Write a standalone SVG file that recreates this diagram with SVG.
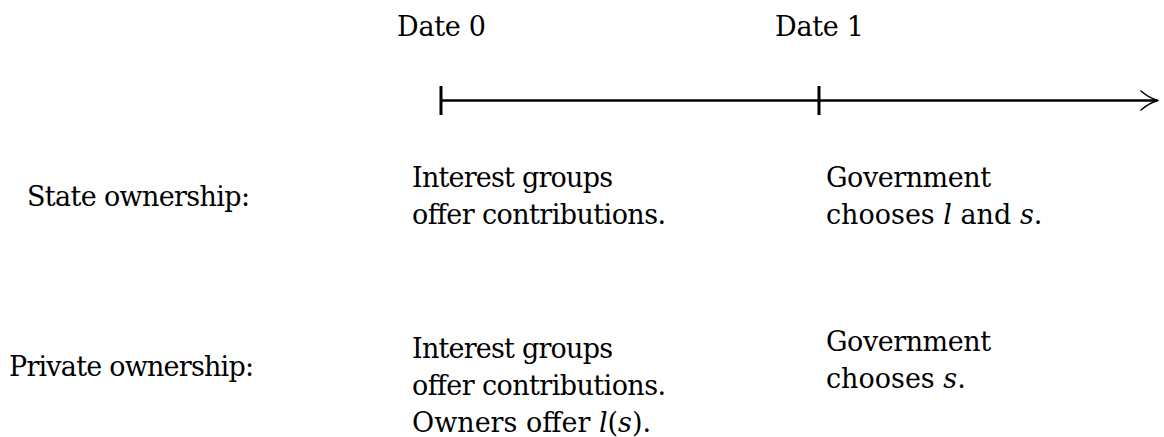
<svg xmlns="http://www.w3.org/2000/svg" width="1164" height="437" viewBox="0 0 1164 437">
<style>
  text { font-family: "DejaVu Serif", "Liberation Serif", "Noto Serif", serif; font-size: 27px; fill: #000; }
  .it { font-style: italic; }
  .axis { stroke: #000; stroke-width: 2.6; fill: none; }
  .tick { stroke: #000; stroke-width: 3; fill: none; }
  .head { stroke: #000; stroke-width: 1.6; fill: none; stroke-linecap: round; stroke-linejoin: round; }
</style>
<rect width="1164" height="437" fill="#fff"/>
<g id="connectors">
  <line class="axis" x1="441" y1="100.5" x2="1157" y2="100.5"/>
  <line class="tick" x1="441" y1="86" x2="441" y2="115"/>
  <line class="tick" x1="819" y1="86" x2="819" y2="115"/>
  <path class="head" d="M1141,91 Q1149,98 1158,100.5 Q1149,103 1141,110"/>
</g>
<g id="date0"><text x="397" y="36" textLength="89" lengthAdjust="spacing">Date 0</text></g>
<g id="date1"><text x="775" y="36" textLength="89" lengthAdjust="spacing">Date 1</text></g>
<g id="state-label"><text x="27" y="206" textLength="223" lengthAdjust="spacing">State ownership:</text></g>
<g id="state-date0">
  <text x="412" y="187" textLength="201" lengthAdjust="spacing">Interest groups</text>
  <text x="412" y="224" textLength="254" lengthAdjust="spacing">offer contributions.</text>
</g>
<g id="state-date1">
  <text x="826" y="187" textLength="165" lengthAdjust="spacing">Government</text>
  <text x="826" y="224">chooses <tspan class="it">l</tspan> and <tspan class="it">s</tspan>.</text>
</g>
<g id="private-label"><text x="9" y="376" textLength="245" lengthAdjust="spacing">Private ownership:</text></g>
<g id="private-date0">
  <text x="412" y="358" textLength="201" lengthAdjust="spacing">Interest groups</text>
  <text x="412" y="395" textLength="254" lengthAdjust="spacing">offer contributions.</text>
  <text x="412" y="432">Owners offer <tspan class="it">l</tspan>(<tspan class="it">s</tspan>).</text>
</g>
<g id="private-date1">
  <text x="826" y="351" textLength="165" lengthAdjust="spacing">Government</text>
  <text x="826" y="388">chooses <tspan class="it">s</tspan>.</text>
</g>
</svg>
